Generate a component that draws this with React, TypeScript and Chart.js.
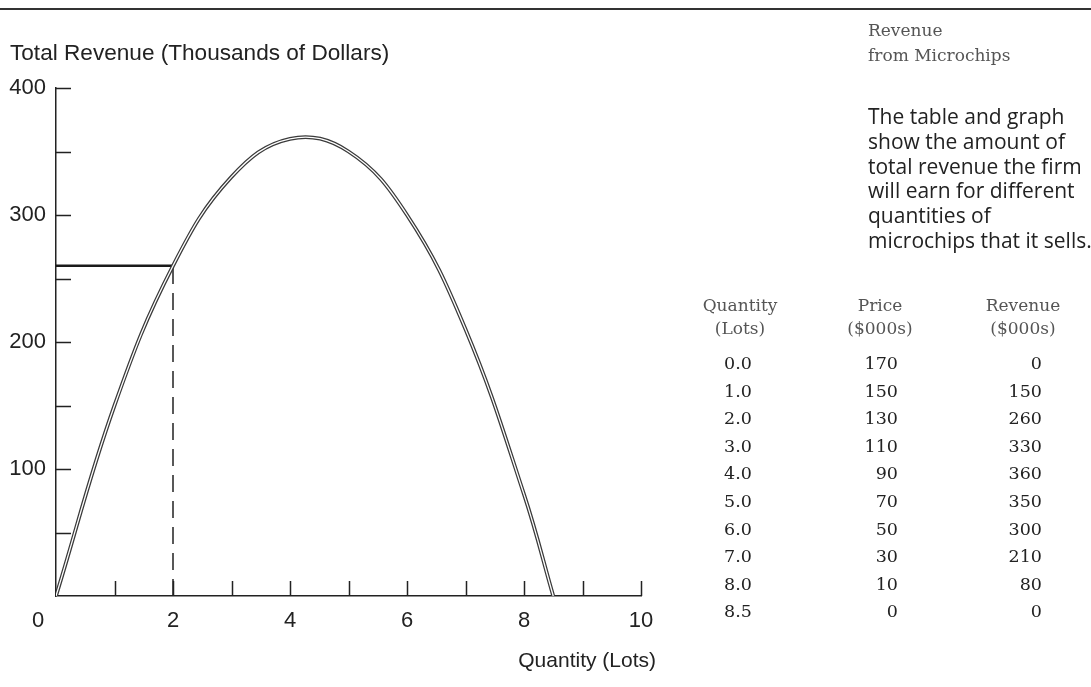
import React, { useEffect, useRef } from "react";
import { Chart, registerables } from "chart.js";

Chart.register(...registerables);

const quantity = [0, 1, 2, 3, 4, 5, 6, 7, 8, 8.5];
const price = [170, 150, 130, 110, 90, 70, 50, 30, 10, 0];
const revenue = [0, 150, 260, 330, 360, 350, 300, 210, 80, 0];

const markedQuantity = 2;
const markedRevenue = 260;

const xTickMarks = [1, 2, 3, 4, 5, 6, 7, 8, 9, 10];
const yTickMarks = [50, 100, 150, 200, 250, 300, 350, 400];

const yAxisTitle = "Total Revenue (Thousands of Dollars)";
const xAxisTitle = "Quantity (Lots)";
const sideTitle = ["Revenue", "from Microchips"];
const sideText = [
  "The table and graph",
  "show the amount of",
  "total revenue the firm",
  "will earn for different",
  "quantities of",
  "microchips that it sells.",
];
const tableHeaders = [
  ["Quantity", "(Lots)"],
  ["Price", "($000s)"],
  ["Revenue", "($000s)"],
];

const W = 1091;
const H = 687;
const SANS = "'Liberation Sans', Arial, sans-serif";
const SERIF = "'DejaVu Serif', serif";

const tickMarkPlugin = {
  id: "tickMarks",
  afterDatasetsDraw(chart: any) {
    const { ctx, scales } = chart;
    const xs = scales.x;
    const ys = scales.y;
    const left = xs.getPixelForValue(0);
    const bottom = ys.getPixelForValue(0);
    ctx.save();
    ctx.strokeStyle = "#222";
    ctx.lineWidth = 1.5;
    ctx.beginPath();
    yTickMarks.forEach((v) => {
      const y = Math.round(ys.getPixelForValue(v)) + 0.5;
      ctx.moveTo(left, y);
      ctx.lineTo(left + 15, y);
    });
    xTickMarks.forEach((v) => {
      const x = Math.round(xs.getPixelForValue(v)) + 0.5;
      ctx.moveTo(x, bottom);
      ctx.lineTo(x, bottom - 15);
    });
    ctx.stroke();
    // corner zero label
    ctx.fillStyle = "#222";
    ctx.font = `22px ${SANS}`;
    ctx.textAlign = "center";
    ctx.textBaseline = "middle";
    ctx.fillText("0", left - 18, bottom + 25);
    ctx.restore();
  },
};

export default function App() {
  const canvasRef = useRef<HTMLCanvasElement | null>(null);

  useEffect(() => {
    if (!canvasRef.current) return;
    const curve = quantity.map((q, i) => ({ x: q, y: revenue[i] }));
    const chart = new Chart(canvasRef.current, {
      type: "line",
      data: {
        datasets: [
          {
            // inner white core of the double-stroked curve (drawn on top)
            data: curve,
            borderColor: "#ffffff",
            borderWidth: 1.3,
            tension: 0.4,
            pointRadius: 0,
            fill: false,
          },
          {
            data: curve,
            borderColor: "#3a3a3a",
            borderWidth: 3.8,
            tension: 0.4,
            pointRadius: 0,
            fill: false,
          },
          {
            data: [
              { x: 0, y: markedRevenue },
              { x: markedQuantity, y: markedRevenue },
            ],
            borderColor: "#1a1a1a",
            borderWidth: 2.5,
            pointRadius: 0,
            tension: 0,
          },
          {
            data: [
              { x: markedQuantity, y: 0 },
              { x: markedQuantity, y: markedRevenue },
            ],
            borderColor: "#222",
            borderWidth: 1.5,
            borderDash: [17, 9],
            pointRadius: 0,
            tension: 0,
          },
        ],
      },
      options: {
        animation: false,
        responsive: false,
        maintainAspectRatio: false,
        events: [],
        layout: { padding: { left: 8, top: 88, right: W - 641, bottom: H - 596 - 40 } },
        plugins: {
          legend: { display: false },
          tooltip: { enabled: false },
          title: { display: false },
        },
        scales: {
          x: {
            type: "linear",
            min: 0,
            max: 10,
            grid: { display: false, drawTicks: false },
            border: { display: true, color: "#222", width: 1.5 },
            ticks: {
              stepSize: 2,
              autoSkip: false,
              maxRotation: 0,
              padding: 12,
              color: "#222",
              font: { family: SANS, size: 22 },
              callback: (v: any) => (v === 0 ? "" : String(v)),
            },
            afterFit: (s: any) => {
              s.height = 40;
            },
          },
          y: {
            type: "linear",
            min: 0,
            max: 400,
            grid: { display: false, drawTicks: false },
            border: { display: true, color: "#222", width: 1.5 },
            ticks: {
              stepSize: 100,
              autoSkip: false,
              padding: 10,
              color: "#222",
              font: { family: SANS, size: 22 },
              callback: (v: any) => (v === 0 ? "" : String(v)),
            },
            afterFit: (s: any) => {
              s.width = 48;
            },
          },
        },
      },
      plugins: [tickMarkPlugin],
    });
    return () => chart.destroy();
  }, []);

  const abs = (left: number, cy: number, lh: number, extra: React.CSSProperties = {}): React.CSSProperties => ({
    position: "absolute",
    left,
    top: cy - lh / 2,
    lineHeight: `${lh}px`,
    whiteSpace: "nowrap",
    ...extra,
  });

  const rowY = (i: number) => 363 + 27.6 * i;

  return (
    <div style={{ position: "fixed", left: 0, top: 0, width: W, height: H, background: "#fff", overflow: "hidden" }}>
      <div style={{ position: "absolute", left: 0, top: 8, width: W, height: 2, background: "#333" }} />
      <canvas ref={canvasRef} width={W} height={H} style={{ position: "absolute", left: 0, top: 0, width: W, height: H }} />

      <div style={abs(10, 53, 26, { fontFamily: SANS, fontSize: 22.6, color: "#222" })}>{yAxisTitle}</div>
      <div style={abs(456, 660, 26, { width: 200, textAlign: "right", fontFamily: SANS, fontSize: 21, color: "#222" })}>
        {xAxisTitle}
      </div>

      {sideTitle.map((t, i) => (
        <div key={"st" + i} style={abs(868, 30 + 25 * i, 24, { fontFamily: SERIF, fontSize: 17, color: "#555" })}>
          {t}
        </div>
      ))}
      {sideText.map((t, i) => (
        <div key={"tx" + i} style={abs(868, 116 + 24.8 * i, 24, { fontFamily: "'Open Sans', sans-serif", fontSize: 21, color: "#222" })}>
          {t}
        </div>
      ))}

      {tableHeaders.map((h, c) => {
        const cx = [740, 880, 1023][c];
        return h.map((t, r) => (
          <div
            key={"h" + c + r}
            style={abs(cx - 80, 305 + 23 * r, 22, { width: 160, textAlign: "center", fontFamily: SERIF, fontSize: 17, color: "#555" })}
          >
            {t}
          </div>
        ));
      })}

      {quantity.map((q, i) => (
        <React.Fragment key={"r" + i}>
          <div style={abs(724, rowY(i), 24, { fontFamily: SERIF, fontSize: 17.5, color: "#222" })}>{q.toFixed(1)}</div>
          <div style={abs(798, rowY(i), 24, { width: 100, textAlign: "right", fontFamily: SERIF, fontSize: 17.5, color: "#222" })}>
            {price[i]}
          </div>
          <div style={abs(942, rowY(i), 24, { width: 100, textAlign: "right", fontFamily: SERIF, fontSize: 17.5, color: "#222" })}>
            {revenue[i]}
          </div>
        </React.Fragment>
      ))}
    </div>
  );
}
